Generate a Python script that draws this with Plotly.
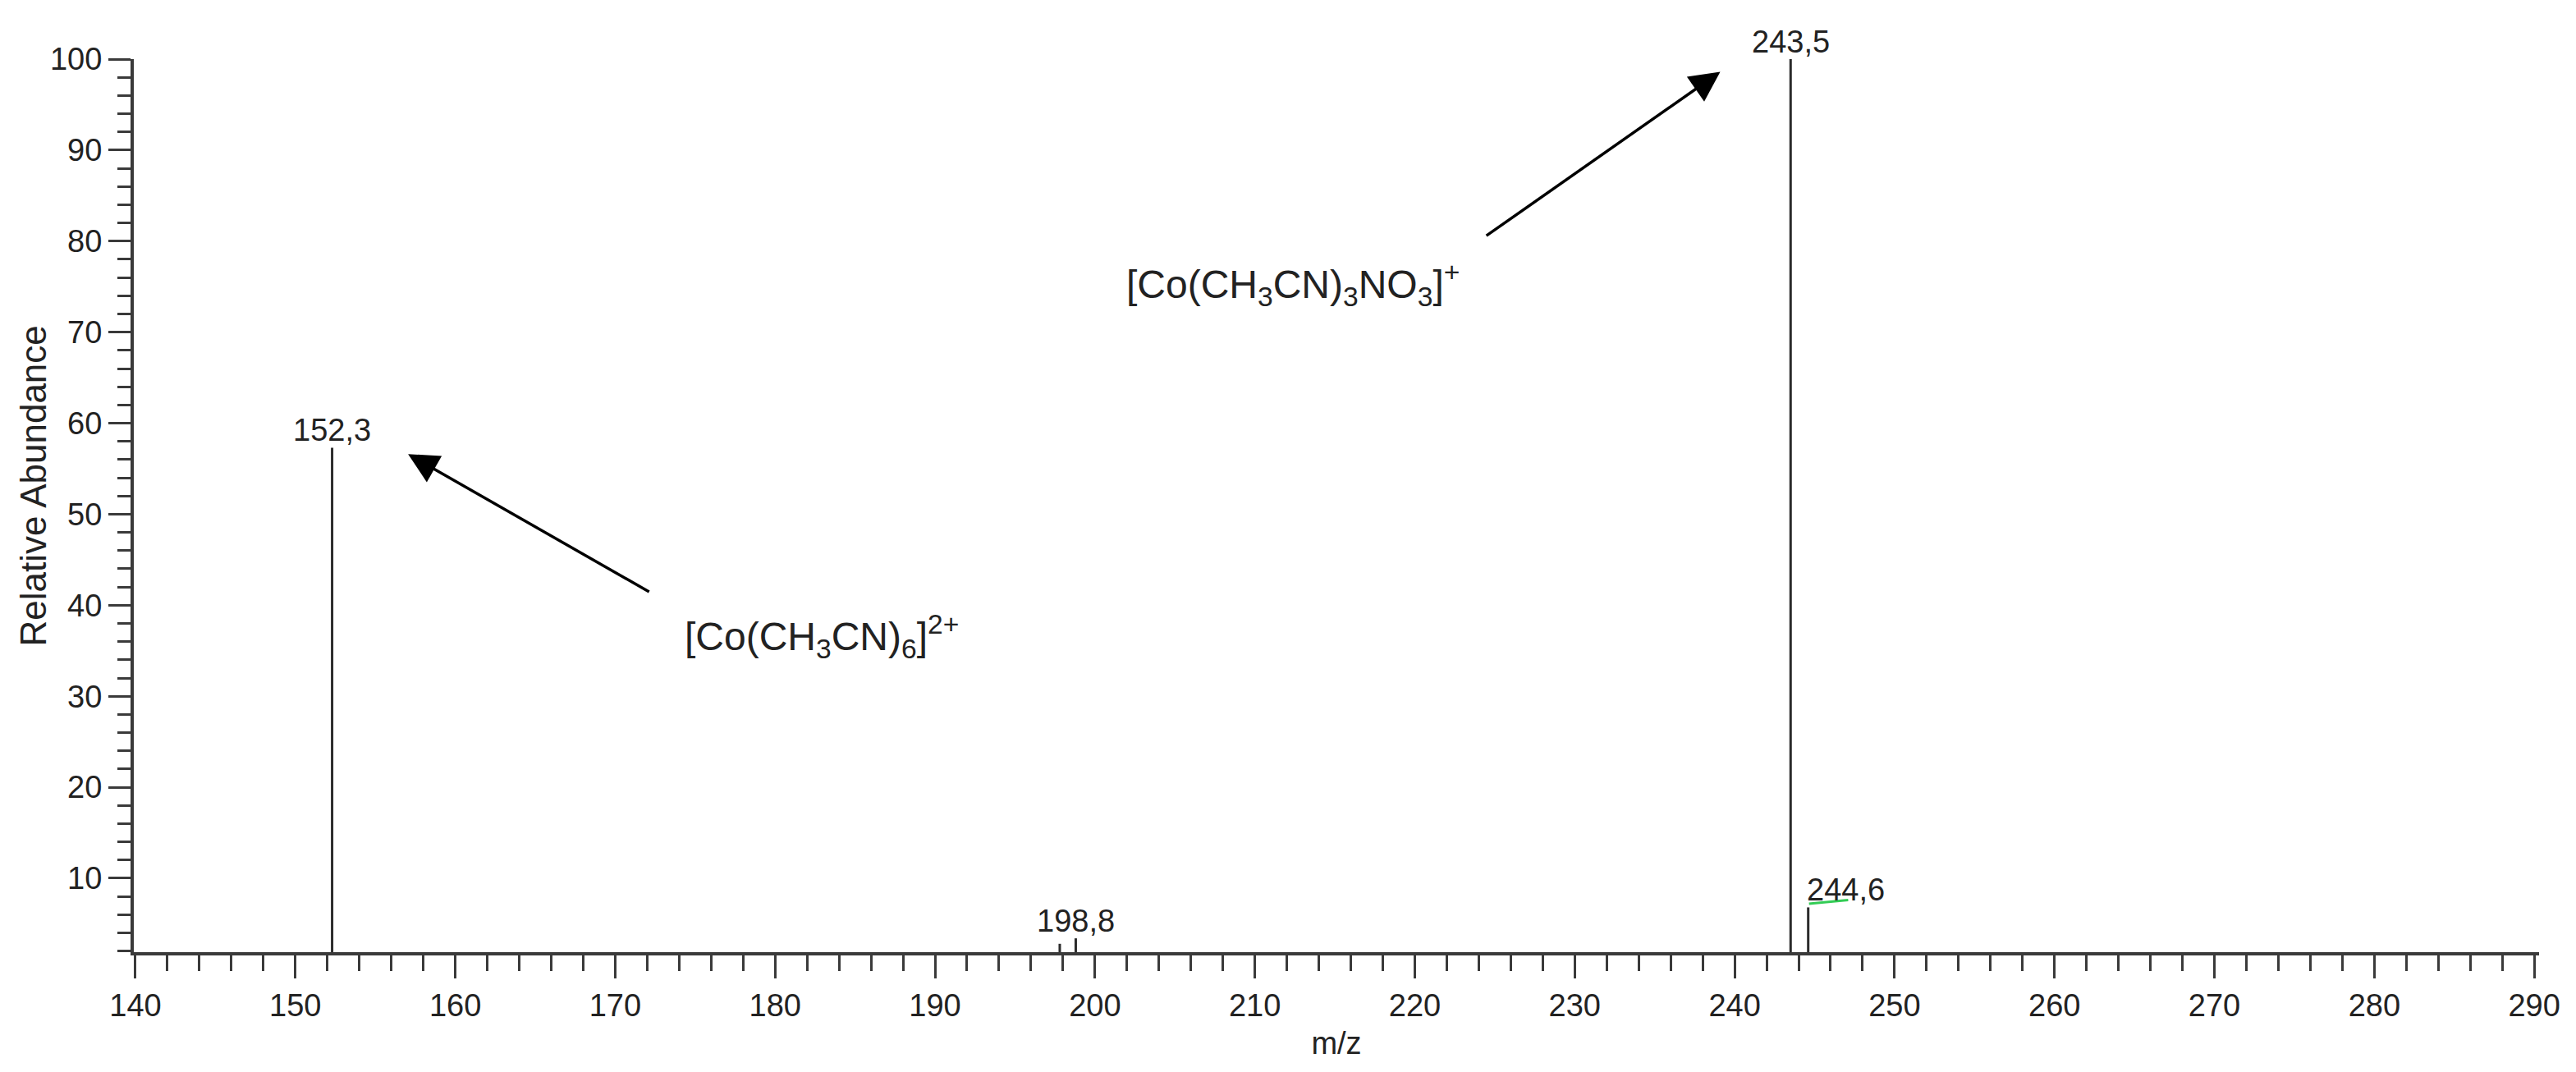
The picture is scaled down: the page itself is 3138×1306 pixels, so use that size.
import plotly.graph_objects as go

# peaks of the ESI mass spectrum (m/z, relative abundance %)
mz = [152.3, 197.8, 198.8, 243.5, 244.6]
abundance = [57.3, 2.8, 3.4, 100.0, 6.8]
labelled = [152.3, 198.8, 243.5, 244.6]

x_ticks = list(range(140, 300, 10))
y_ticks = list(range(10, 110, 10))

FONT = "Liberation Sans, Arial, sans-serif"
INK = "#222222"
AXIS = "#3a3a3a"

# stems from the baseline up to each peak
stem_x, stem_y = [], []
for m, a in zip(mz, abundance):
    stem_x += [m, m, None]
    stem_y += [0, a, None]

fig = go.Figure()
fig.add_trace(go.Scatter(
    x=stem_x, y=stem_y, mode='lines',
    line=dict(color='#2b2b2b', width=3),
    hoverinfo='skip', showlegend=False
))

# peak labels (comma as decimal separator)
for m, a in zip(mz, abundance):
    if m not in labelled:
        continue
    left = (m == 244.6)
    fig.add_annotation(
        x=m, y=a, xref='x', yref='y',
        text=f"{m:.1f}".replace('.', ','),
        showarrow=False,
        xanchor='left' if left else 'center', yanchor='bottom',
        xshift=-4 if left else 0, yshift=-2,
        font=dict(family=FONT, size=38, color=INK)
    )

# small green underline under the 244,6 label
fig.add_shape(type='line', xref='x', yref='y',
              x0=244.65, y0=7.2, x1=247.1, y1=7.6,
              line=dict(color='#33cc55', width=3))

# ion assignments with arrows
fig.add_annotation(
    x=239.1, y=98.6, ax=224.4, ay=80.5, xref='x', yref='y', axref='x', ayref='y',
    text='', showarrow=True, arrowhead=2, arrowsize=2.1, arrowwidth=3.5, arrowcolor='#000000'
)
fig.add_annotation(
    x=157.05, y=56.6, ax=172.2, ay=41.4, xref='x', yref='y', axref='x', ayref='y',
    text='', showarrow=True, arrowhead=2, arrowsize=2.1, arrowwidth=3.5, arrowcolor='#000000'
)
fig.add_annotation(
    x=212.4, y=75.2, xref='x', yref='y', showarrow=False,
    text='[Co(CH<sub>3</sub>CN)<sub>3</sub>NO<sub>3</sub>]<sup>+</sup>',
    font=dict(family=FONT, size=48, color=INK)
)
fig.add_annotation(
    x=182.9, y=36.6, xref='x', yref='y', showarrow=False,
    text='[Co(CH<sub>3</sub>CN)<sub>6</sub>]<sup>2+</sup>',
    font=dict(family=FONT, size=48, color=INK)
)

# y axis title placed by hand, left of the tick labels
fig.add_annotation(
    x=-0.0418, y=0.522, xref='paper', yref='paper', showarrow=False,
    xanchor='center', yanchor='middle',
    text='Relative Abundance', textangle=-90,
    font=dict(family=FONT, size=44, color=INK)
)

axis_common = dict(
    showline=True, linecolor=AXIS, linewidth=4,
    ticks='outside', tickwidth=3, tickcolor=AXIS,
    showgrid=False, zeroline=False,
    tickfont=dict(family=FONT, size=38, color=INK),
)

fig.update_xaxes(
    **axis_common,
    range=[139.9, 290.3], tickvals=x_ticks, ticklen=28,
    minor=dict(dtick=2, tick0=140, ticks='outside', ticklen=19, tickwidth=3, tickcolor=AXIS),
    title=dict(text='m/z', standoff=14, font=dict(family=FONT, size=38, color=INK))
)
fig.update_yaxes(
    **axis_common,
    range=[1.88, 100.0], tickvals=y_ticks, ticklen=27,
    minor=dict(dtick=2, tick0=0, ticks='outside', ticklen=16, tickwidth=3, tickcolor=AXIS)
)

# page body has an 8px margin, so the figure is shrunk and shifted to fit
fig.update_layout(
    width=3122, height=1290,
    margin=dict(l=155, r=37, t=64, b=138),
    plot_bgcolor='white', paper_bgcolor='white',
    showlegend=False
)

fig.write_html("out.html")
